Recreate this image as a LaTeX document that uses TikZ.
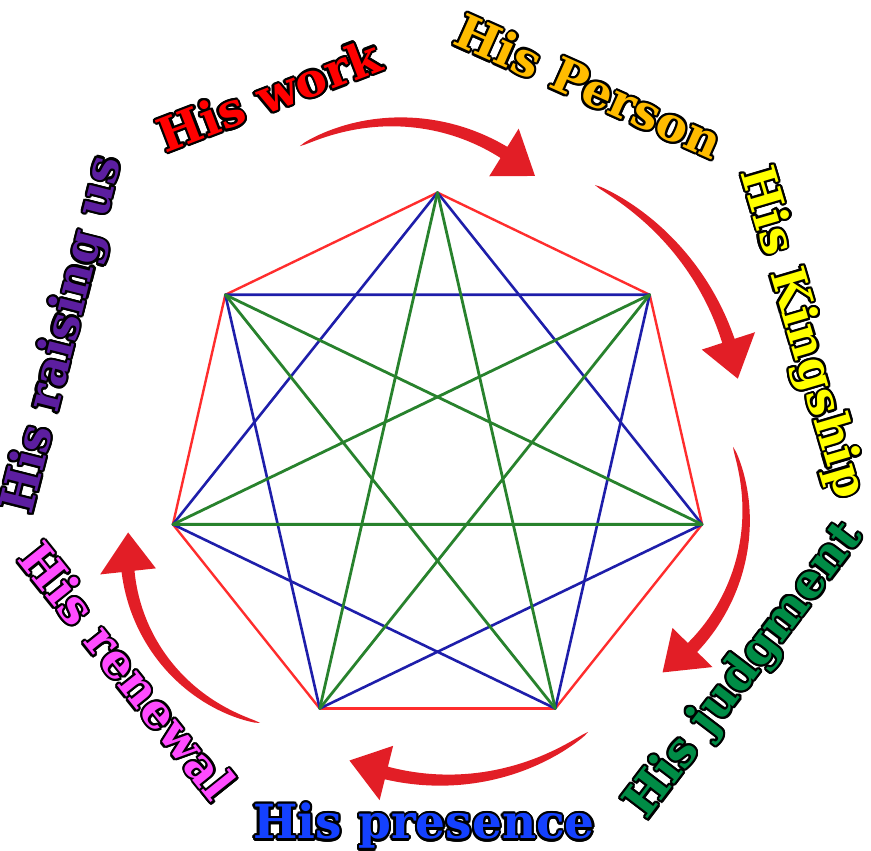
\documentclass[tikz,border=0pt]{standalone}
\usepackage{fontspec}
\setmainfont{DejaVu Serif}

% colours
\definecolor{arrowred}{RGB}{226,30,38}
\definecolor{rimred}{RGB}{255,45,45}
\definecolor{starblue}{RGB}{30,30,170}
\definecolor{stargreen}{RGB}{40,130,45}
\definecolor{workred}{RGB}{255,0,0}
\definecolor{persongold}{RGB}{255,188,0}
\definecolor{kingyellow}{RGB}{255,255,0}
\definecolor{judggreen}{RGB}{0,140,70}
\definecolor{presblue}{RGB}{20,65,255}
\definecolor{renewpink}{RGB}{255,75,255}
\definecolor{raisepurple}{RGB}{92,30,160}

% shifted copies of a word, giving the black rim behind it
\newsavebox\lblbox
\newcommand\rimcopies[1]{%
  \sbox\lblbox{#1}%
  \foreach \a in {0,22.5,...,337.5}{%
    \pgfmathsetmacro\dx{1.1*cos(\a)}\pgfmathsetmacro\dy{1.1*sin(\a)}%
    \rlap{\kern\dx pt\smash{\raisebox{\dy pt}{\usebox\lblbox}}}}%
  \phantom{\usebox\lblbox}}

% tapered curved arrow: centre x, centre y, radius, start angle, head angle
\newcommand\sweeparrow[5]{%
  \fill[arrowred] plot[domain=0:1, samples=40, variable=\t]
      ({#1+(#3+6.5*sqrt(\t))*cos(#4+(#5-#4)*\t)}, {#2+(#3+6.5*sqrt(\t))*sin(#4+(#5-#4)*\t)})
    -- ([shift={(#1,#2)}] {#5}:{#3+28})
    -- ([shift={(#1,#2)}] {#5-2234/#3}:{#3})
    -- ([shift={(#1,#2)}] {#5}:{#3-28})
    -- plot[domain=0:1, samples=40, variable=\t]
      ({#1+(#3-6.5*sqrt(1-\t))*cos(#5+(#4-#5)*\t)}, {#2+(#3-6.5*sqrt(1-\t))*sin(#5+(#4-#5)*\t)})
    -- cycle;}

\tikzset{
  lbl/.style={font=\fontsize{23.5}{28}\selectfont\bfseries, inner sep=0pt},
  rim/.style={rimred, line width=1.2pt},
  skip2/.style={starblue, line width=1.3pt},
  skip3/.style={stargreen, line width=1.4pt}
}

\begin{document}
\begin{tikzpicture}[x=0.5pt, y=0.5pt]
\useasboundingbox (0,0) rectangle (871,850);

% vertices of the heptagon
\foreach \k in {0,...,6}
  \coordinate (v\k) at ([shift={(437.5,386)}] {90+360*\k/7}:271.4);

% sides, then the two stars
\foreach \s/\st in {1/rim, 2/skip2, 3/skip3}{
  \foreach \k in {0,...,6}{
    \pgfmathtruncatemacro\n{mod(\k+\s,7)}
    \draw[\st, line cap=round] (v\k) -- (v\n);
  }
}

% arrows round the figure
\sweeparrow{396.4}{523.4}{204.7}{118.1}{58.3}
\sweeparrow{473.3}{425.7}{268.4}{63.0}{18.1}
\sweeparrow{557.5}{334.2}{188.6}{21.4}{-44.3}
\sweeparrow{444.2}{309.0}{239.1}{-53.0}{-104.0}
\sweeparrow{302.9}{297.6}{175.9}{255.9}{186.2}

% labels: black rim first, coloured word on top
\foreach \nm/\col/\rot/\px/\py/\txt in {
    work/workred/21/269/755/His work,
    person/persongold/-24/589/764/His Person,
    kingship/kingyellow/-73.5/801/517/His Kingship,
    judgment/judggreen/52.7/745/179/His judgment,
    presence/presblue/0/424/24/His presence,
    renewal/renewpink/-51.3/128/179/His renewal,
    raising/raisepurple/75.8/64/515/His raising us}{
  \node[lbl, rotate=\rot] (\nm-rim) at (\px,\py) {\rimcopies{\txt}};
  \node[lbl, rotate=\rot, text=\col] (\nm) at (\px,\py) {\txt};
}
\end{tikzpicture}
\end{document}
